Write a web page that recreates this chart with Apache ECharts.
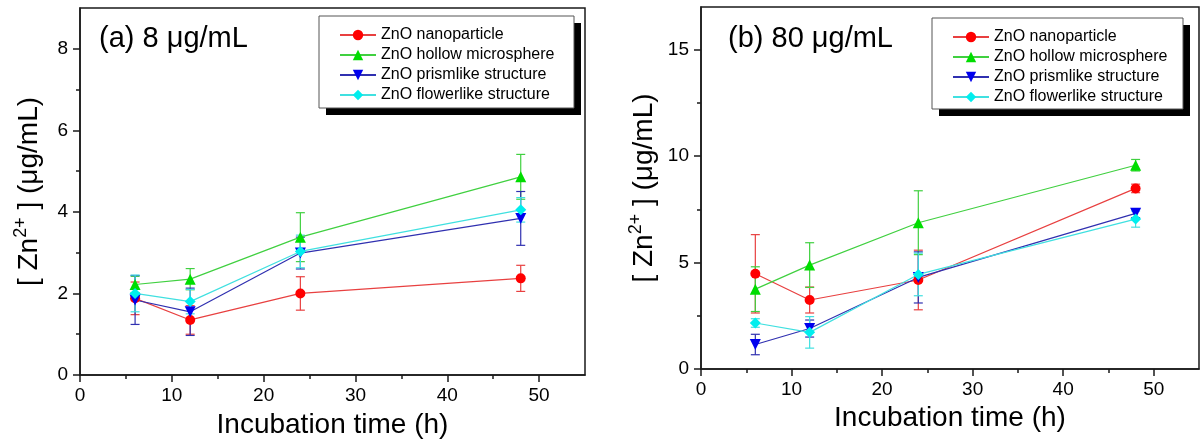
<!DOCTYPE html>
<html>
<head>
<meta charset="utf-8">
<script src="https://cdn.jsdelivr.net/npm/echarts@6/dist/echarts.min.js"></script>
<style>html,body{margin:0;padding:0;background:#fff;}#c{width:1200px;height:445px;}</style>
</head>
<body>
<div id="c"></div>
<script>
// ---- data ----
const times = [6, 12, 24, 48];
const seriesNames = ['ZnO nanoparticle', 'ZnO hollow microsphere', 'ZnO prismlike structure', 'ZnO flowerlike structure'];
// Panel (a) 8 µg/mL
const a_nano = [1.88, 1.35, 2.00, 2.37];
const a_nano_err = [0.40, 0.35, 0.41, 0.32];
const a_hollow = [2.22, 2.35, 3.38, 4.86];
const a_hollow_err = [0.20, 0.26, 0.60, 0.55];
const a_prism = [1.84, 1.55, 2.99, 3.84];
const a_prism_err = [0.60, 0.58, 0.39, 0.66];
const a_flower = [2.00, 1.80, 3.03, 4.05];
const a_flower_err = [0.45, 0.30, 0.40, 0.30];
// Panel (b) 80 µg/mL
const b_nano = [4.47, 3.24, 4.18, 8.48];
const b_nano_err = [1.84, 0.61, 1.40, 0.20];
const b_hollow = [3.75, 4.88, 6.87, 9.57];
const b_hollow_err = [1.05, 1.05, 1.50, 0.27];
const b_prism = [1.15, 1.90, 4.30, 7.31];
const b_prism_err = [0.48, 0.40, 1.20, 0.20];
const b_flower = [2.16, 1.72, 4.44, 7.04];
const b_flower_err = [0.20, 0.74, 1.00, 0.38];
// axis ticks
const xMajor = [0, 10, 20, 30, 40, 50];
const xMinor = [5, 15, 25, 35, 45];
const aYMajor = [0, 2, 4, 6, 8];
const aYMinor = [1, 3, 5, 7];
const bYMajor = [0, 5, 10, 15];
const bYMinor = [2.5, 7.5, 12.5];
const panelTitles = ['(a) 8 μg/mL', '(b) 80 μg/mL'];
const xName = 'Incubation time (h)';
const yName = '[ Zn{sup|2+} ] (μg/mL)';

// ---- style ----
const FONT = 'Liberation Sans, Arial, sans-serif';
const AX = '#1a1a1a';
const markerColors = ['#ff0000', '#00dd00', '#0000ee', '#00eeee'];
const lineColors = ['#e84040', '#40d040', '#3030b0', '#40e0e0'];
const symbols = ['circle', 'triangle', 'triangle', 'diamond'];
const rotations = [0, 0, 180, 0];
const symbolSizes = [10, 11, 11, 11];

const panelData = [
  [[a_nano, a_nano_err], [a_hollow, a_hollow_err], [a_prism, a_prism_err], [a_flower, a_flower_err]],
  [[b_nano, b_nano_err], [b_hollow, b_hollow_err], [b_prism, b_prism_err], [b_flower, b_flower_err]]
];

const grids = [
  {left: 80, top: 8, width: 505, height: 367},
  {left: 701, top: 7, width: 498, height: 362}
];
const yMax = [9, 17];
const yMajors = [aYMajor, bYMajor];
const yMinors = [aYMinor, bYMinor];
const yNameGaps = [34, 40];
const xNameGaps = [36, 35];
const legendBoxes = [
  {x: 319, y: 16, w: 255, h: 92},
  {x: 932, y: 18, w: 251, h: 91}
];

const xAxes = [], yAxes = [], series = [];
grids.forEach((g, p) => {
  xAxes.push({
    type: 'value', gridIndex: p, min: 0, max: 55, position: 'bottom',
    name: xName, nameLocation: 'middle', nameGap: xNameGaps[p],
    nameTextStyle: {fontFamily: FONT, fontSize: 28, color: '#000'},
    axisLine: {show: true, onZero: false, lineStyle: {color: AX, width: 1.5}},
    axisTick: {show: true, inside: false, length: 7, customValues: xMajor, lineStyle: {color: AX, width: 1.5}},
    axisLabel: {show: true, customValues: xMajor, margin: 11, fontFamily: FONT, fontSize: 19, color: '#000'},
    splitLine: {show: false}
  });
  xAxes.push({
    type: 'value', gridIndex: p, min: 0, max: 55, position: 'bottom',
    axisLine: {show: false},
    axisTick: {show: true, inside: false, length: 4, customValues: xMinor, lineStyle: {color: AX, width: 1.5}},
    axisLabel: {show: false}, splitLine: {show: false}
  });
  yAxes.push({
    type: 'value', gridIndex: p, min: 0, max: yMax[p], position: 'left',
    name: yName, nameLocation: 'middle', nameGap: yNameGaps[p], nameRotate: 90,
    nameTextStyle: {fontFamily: FONT, fontSize: 28, color: '#000', lineHeight: 34,
      rich: {sup: {fontFamily: FONT, fontSize: 18, color: '#000', verticalAlign: 'top', lineHeight: 18, padding: [0, 0, 14, 0]}}},
    axisLine: {show: true, onZero: false, lineStyle: {color: AX, width: 1.5}},
    axisTick: {show: true, inside: false, length: 7, customValues: yMajors[p], lineStyle: {color: AX, width: 1.5}},
    axisLabel: {show: true, customValues: yMajors[p], margin: 12, fontFamily: FONT, fontSize: 19, color: '#000'},
    splitLine: {show: false}
  });
  yAxes.push({
    type: 'value', gridIndex: p, min: 0, max: yMax[p], position: 'left',
    axisLine: {show: false},
    axisTick: {show: true, inside: false, length: 4, customValues: yMinors[p], lineStyle: {color: AX, width: 1.5}},
    axisLabel: {show: false}, splitLine: {show: false}
  });

  panelData[p].forEach((pair, k) => {
    const vals = pair[0], errs = pair[1];
    series.push({
      type: 'custom', name: seriesNames[k] + ' err', xAxisIndex: 2 * p, yAxisIndex: 2 * p,
      silent: true, z: 2,
      data: times.map((t, i) => [t, vals[i] - errs[i], vals[i] + errs[i]]),
      renderItem: function (params, api) {
        const x = api.value(0);
        const top = api.coord([x, api.value(2)]);
        const bot = api.coord([x, api.value(1)]);
        const c = lineColors[k];
        const w = 4.5;
        const st = {stroke: c, lineWidth: 1.2};
        return {type: 'group', children: [
          {type: 'line', shape: {x1: top[0], y1: top[1], x2: bot[0], y2: bot[1]}, style: st},
          {type: 'line', shape: {x1: top[0] - w, y1: top[1], x2: top[0] + w, y2: top[1]}, style: st},
          {type: 'line', shape: {x1: bot[0] - w, y1: bot[1], x2: bot[0] + w, y2: bot[1]}, style: st}
        ]};
      }
    });
    series.push({
      type: 'line', name: seriesNames[k], xAxisIndex: 2 * p, yAxisIndex: 2 * p, z: 3,
      data: times.map((t, i) => [t, vals[i]]),
      symbol: symbols[k], symbolRotate: rotations[k], symbolSize: symbolSizes[k],
      showAllSymbol: true,
      itemStyle: {color: markerColors[k]},
      lineStyle: {color: lineColors[k], width: 1.2},
      animation: false
    });
  });
});

const legendBase = {
  orient: 'vertical', data: seriesNames, z: 10,
  itemWidth: 36, itemHeight: 13, itemGap: 4,
  padding: [11, 17, 6, 20],
  textStyle: {fontFamily: FONT, fontSize: 16, color: '#000'},
  selectedMode: false
};

const graphics = [];
legendBoxes.forEach(b => {
  graphics.push({type: 'rect', z: 1, silent: true, shape: {x: b.x + 7, y: b.y + 7, width: b.w, height: b.h}, style: {fill: '#000'}});
  graphics.push({type: 'rect', z: 2, silent: true, shape: {x: b.x, y: b.y, width: b.w, height: b.h}, style: {fill: '#fff', stroke: '#555', lineWidth: 1}});
});

const option = {
  backgroundColor: '#fff',
  animation: false,
  title: [
    {text: panelTitles[0], left: 99, top: 24, padding: 0, textStyle: {fontFamily: FONT, fontSize: 29, fontWeight: 'normal', color: '#000'}},
    {text: panelTitles[1], left: 728, top: 24, padding: 0, textStyle: {fontFamily: FONT, fontSize: 29, fontWeight: 'normal', color: '#000'}}
  ],
  graphic: graphics,
  grid: grids.map(g => Object.assign({show: true, borderColor: AX, borderWidth: 1.5, backgroundColor: 'transparent'}, g)),
  legend: [
    Object.assign({}, legendBase, {left: legendBoxes[0].x, top: legendBoxes[0].y}),
    Object.assign({}, legendBase, {left: legendBoxes[1].x, top: legendBoxes[1].y})
  ],
  xAxis: xAxes,
  yAxis: yAxes,
  series: series
};

const chart = echarts.init(document.getElementById('c'), null, {renderer: 'canvas'});
chart.setOption(option);
</script>
</body>
</html>
